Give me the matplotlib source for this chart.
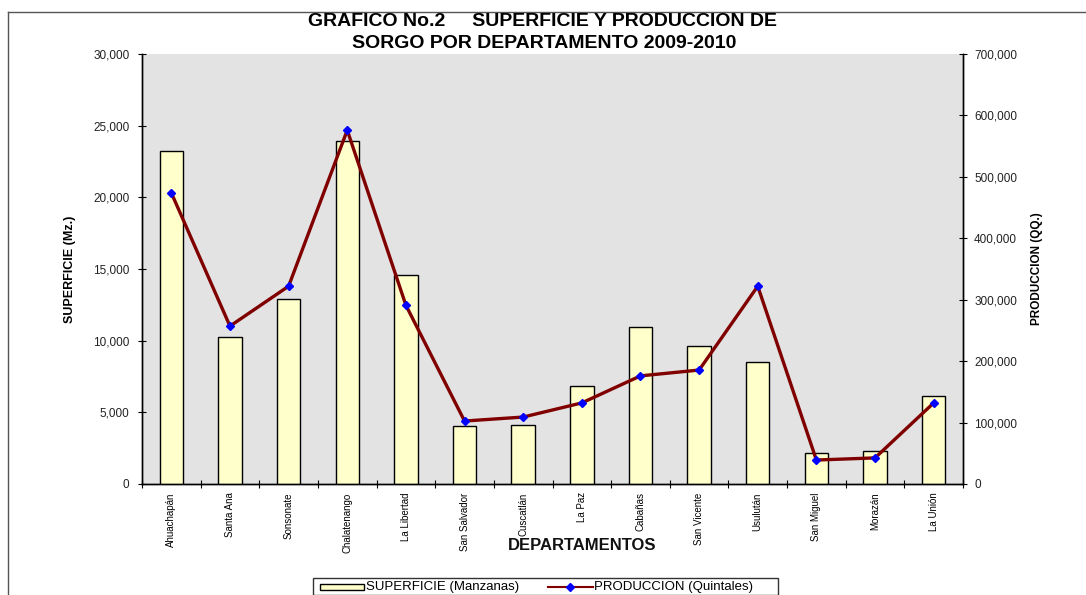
import matplotlib
matplotlib.use('Agg')
import matplotlib.pyplot as plt
import numpy as np
from matplotlib.lines import Line2D
from matplotlib.patches import Rectangle
from matplotlib.ticker import FuncFormatter, FixedLocator

DEPTOS = ['Ahuachapán', 'Santa Ana', 'Sonsonate', 'Chalatenango', 'La Libertad',
          'San Salvador', 'Cuscatlán', 'La Paz', 'Cabañas', 'San Vicente',
          'Usulután', 'San Miguel', 'Morazán', 'La Unión']
SUPERFICIE = [23200, 10250, 12900, 23900, 14600, 4050, 4100, 6850, 10950, 9600,
              8500, 2150, 2300, 6150]
PRODUCCION = [474000, 257000, 322000, 576000, 291000, 102500, 109000, 132000,
              176000, 185500, 322000, 39000, 42500, 132000]

W, H = 1086, 595
fig = plt.figure(figsize=(W / 100, H / 100), dpi=100)
fig.patch.set_facecolor('white')
ax = fig.add_axes([142 / W, 1 - 484 / H, (963 - 142) / W, (484 - 54) / H])
ax2 = ax.twinx()

narrow = ['Liberation Sans Narrow', 'Liberation Sans', 'DejaVu Sans']
sans = ['Liberation Sans', 'DejaVu Sans']

x = np.arange(len(DEPTOS))
ax.set_facecolor('#e3e3e3')
ax.bar(x, SUPERFICIE, width=0.4, color='#ffffcc', edgecolor='black', linewidth=1.0, zorder=3)
ax2.plot(x, PRODUCCION, color='#800000', lw=2.4, marker='D', ms=4.2,
         mfc='#0000ff', mec='#0000ff', zorder=4)

ax.set_xlim(-0.5, len(DEPTOS) - 0.5)
ax.set_ylim(0, 30000)
ax2.set_ylim(0, 700000)
ax.set_yticks(np.arange(0, 30001, 5000))
ax2.set_yticks(np.arange(0, 700001, 100000))
fmt = FuncFormatter(lambda v, p: f'{int(v):,}')
ax.yaxis.set_major_formatter(fmt)
ax2.yaxis.set_major_formatter(fmt)

ax.set_xticks(x)
ax.set_xticklabels(DEPTOS, rotation=90, fontsize=7, family=narrow)
ax.tick_params(axis='x', which='major', length=0, pad=6)
ax.xaxis.set_minor_locator(FixedLocator(np.arange(-0.5, len(DEPTOS), 1.0)))
ax.tick_params(axis='x', which='minor', length=6, direction='inout', width=0.8)
ax.tick_params(axis='y', length=6, direction='inout', width=0.8, labelsize=8.5, pad=6)
ax2.tick_params(axis='y', length=6, direction='inout', width=0.8, labelsize=8.5, pad=5)
for lab in ax.get_yticklabels() + ax2.get_yticklabels():
    lab.set_family(sans)
    lab.set_color('#222222')

for a in (ax, ax2):
    a.spines['top'].set_visible(False)
    for s in ('left', 'right', 'bottom'):
        a.spines[s].set_color('black')
        a.spines[s].set_linewidth(1.0)

ax.set_ylabel('SUPERFICIE (Mz.)', fontsize=9, fontweight='bold', family=narrow, labelpad=12)
ax2.set_ylabel('PRODUCCION (QQ.)', fontsize=8.5, fontweight='bold', family=narrow, labelpad=10)
fig.text(582 / W, 1 - 545 / H, 'DEPARTAMENTOS', ha='center', va='center',
         fontsize=12, fontweight='bold', family=sans, color='#111111')

fig.text(543 / W, 1 - 22 / H, 'GRAFICO No.2     SUPERFICIE Y PRODUCCION DE',
         ha='center', va='center', fontsize=14, fontweight='bold', family=sans)
fig.text(544 / W, 1 - 43 / H, 'SORGO POR DEPARTAMENTO 2009-2010',
         ha='center', va='center', fontsize=14, fontweight='bold', family=sans)

# outer chart frame (clipped at the right and bottom edges)
fig.add_artist(Line2D([8 / W, 1], [1 - 12 / H, 1 - 12 / H], color='#555555', lw=1))
fig.add_artist(Line2D([8 / W, 8 / W], [1 - 12 / H, 0], color='#555555', lw=1))

# legend box
fig.add_artist(Rectangle((313 / W, 0), (778 - 313) / W, 17 / H, transform=fig.transFigure,
                         fc='white', ec='#333333', lw=1))
fig.add_artist(Rectangle((320 / W, 1 - 590 / H), 44 / W, 6 / H, transform=fig.transFigure,
                         fc='#ffffcc', ec='black', lw=1))
fig.text(366 / W, 1 - 587 / H, 'SUPERFICIE (Manzanas)', ha='left', va='center',
         fontsize=9.5, family=sans)
fig.add_artist(Line2D([548 / W, 593 / W], [1 - 587 / H, 1 - 587 / H], color='#800000', lw=1.5))
fig.add_artist(Line2D([570 / W], [1 - 587 / H], marker='D', ms=4, mfc='#0000ff',
                      mec='#0000ff', lw=0))
fig.text(594 / W, 1 - 587 / H, 'PRODUCCION (Quintales)', ha='left', va='center',
         fontsize=9.5, family=sans)

fig.savefig('out.png', dpi=100, facecolor='white')
